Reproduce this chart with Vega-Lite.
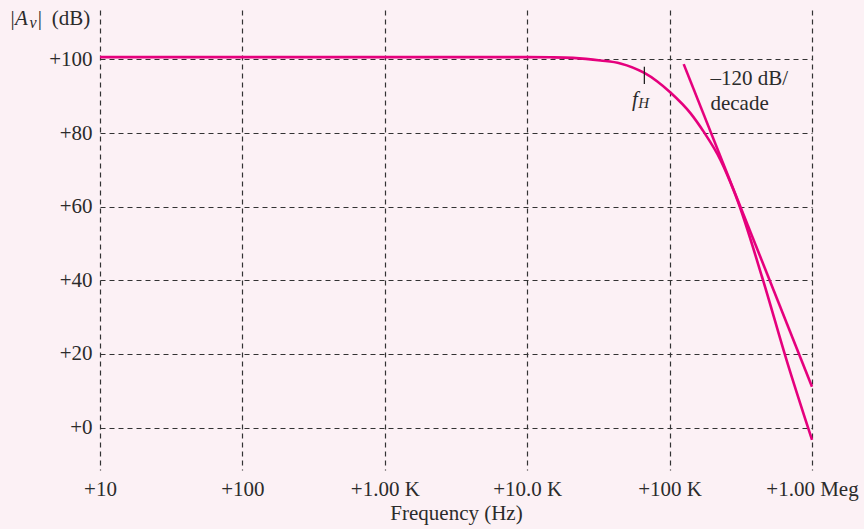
{
  "$schema": "https://vega.github.io/schema/vega-lite/v6.json",
  "width": 712,
  "height": 460,
  "autosize": {"type": "none"},
  "padding": {"left": 100, "top": 10, "right": 52, "bottom": 59},
  "background": "#fcf1f5",
  "config": {
    "view": {"stroke": null},
    "font": "Liberation Serif",
    "text": {"font": "Liberation Serif", "color": "#2b2b2b", "fontSize": 21}
  },
  "encoding": {
    "x": {
      "field": "f", "type": "quantitative",
      "scale": {"type": "log", "domain": [10, 1000000], "nice": false},
      "axis": {
        "values": [10, 100, 1000, 10000, 100000, 1000000],
        "labelExpr": "datum.value < 50 ? '+10' : datum.value < 500 ? '+100' : datum.value < 5000 ? '+1.00 K' : datum.value < 50000 ? '+10.0 K' : datum.value < 500000 ? '+100 K' : '+1.00 Meg'",
        "grid": true, "gridDash": [5, 4], "gridColor": "#333333", "gridWidth": 1.2, "gridOpacity": 1,
        "domain": false, "ticks": false,
        "labelFont": "Liberation Serif", "labelFontSize": 21, "labelColor": "#2b2b2b",
        "labelPadding": 8, "labelFlush": false, "labelOverlap": false,
        "title": "Frequency (Hz)", "titleFont": "Liberation Serif", "titleFontSize": 21,
        "titleFontWeight": "normal", "titleColor": "#2b2b2b", "titlePadding": 3
      }
    },
    "y": {
      "field": "db", "type": "quantitative",
      "scale": {"domain": [-11.5, 113.4], "nice": false, "zero": false},
      "axis": {
        "values": [0, 20, 40, 60, 80, 100],
        "labelExpr": "'+' + datum.value",
        "grid": true, "gridDash": [5, 4], "gridColor": "#333333", "gridWidth": 1.2, "gridOpacity": 1,
        "domain": false, "ticks": false,
        "labelFont": "Liberation Serif", "labelFontSize": 21, "labelColor": "#2b2b2b",
        "labelPadding": 8, "title": null
      }
    }
  },
  "layer": [
    {
      "data": {"values": [
        {"f": 10, "db": 100.6},
        {"f": 100, "db": 100.6},
        {"f": 1000, "db": 100.6},
        {"f": 10000, "db": 100.6},
        {"f": 15000, "db": 100.55},
        {"f": 21000, "db": 100.4},
        {"f": 32700, "db": 99.7},
        {"f": 45100, "db": 98.9},
        {"f": 66500, "db": 96.3},
        {"f": 82000, "db": 94.0},
        {"f": 101400, "db": 91.0},
        {"f": 140000, "db": 85.4},
        {"f": 173800, "db": 80.3},
        {"f": 227500, "db": 72.7},
        {"f": 281000, "db": 64.5},
        {"f": 299000, "db": 61.8},
        {"f": 452500, "db": 40.1},
        {"f": 662000, "db": 18.4},
        {"f": 1000000, "db": -3.3}
      ]},
      "mark": {"type": "line", "color": "#e5007d", "strokeWidth": 2.6, "interpolate": "monotone"}
    },
    {
      "data": {"values": [
        {"f": 125600, "db": 98.7},
        {"f": 1000000, "db": 11.1}
      ]},
      "mark": {"type": "line", "color": "#e5007d", "strokeWidth": 2.6}
    },
    {
      "data": {"values": [{"f": 66500, "db": 98.0, "db2": 93.3}]},
      "mark": {"type": "rule", "color": "#222222", "strokeWidth": 1.3},
      "encoding": {"y2": {"field": "db2"}}
    },
    {
      "data": {"values": [
        {"f": 193600, "db": 93.0, "t": "–120 dB/"},
        {"f": 193600, "db": 86.2, "t": "decade"}
      ]},
      "mark": {"type": "text", "align": "left", "baseline": "alphabetic", "fontSize": 21},
      "encoding": {"text": {"field": "t"}}
    },
    {
      "data": {"values": [{"f": 54500, "db": 87.4, "t": "f"}]},
      "mark": {"type": "text", "align": "left", "baseline": "alphabetic", "fontSize": 21, "fontStyle": "italic"},
      "encoding": {"text": {"field": "t"}}
    },
    {
      "data": {"values": [{"f": 60300, "db": 86.8, "t": "H"}]},
      "mark": {"type": "text", "align": "left", "baseline": "alphabetic", "fontSize": 15, "fontStyle": "italic"},
      "encoding": {"text": {"field": "t"}}
    },
    {
      "data": {"values": [
        {"f": 2.435, "db": 109.3, "t": "|"},
        {"f": 3.788, "db": 109.3, "t": "|"}
      ]},
      "mark": {"type": "text", "align": "center", "baseline": "alphabetic", "fontSize": 21},
      "encoding": {"text": {"field": "t"}}
    },
    {
      "data": {"values": [{"f": 2.527, "db": 109.3, "t": "A"}]},
      "mark": {"type": "text", "align": "left", "baseline": "alphabetic", "fontSize": 21, "fontStyle": "italic"},
      "encoding": {"text": {"field": "t"}}
    },
    {
      "data": {"values": [{"f": 3.196, "db": 108.4, "t": "v"}]},
      "mark": {"type": "text", "align": "left", "baseline": "alphabetic", "fontSize": 16, "fontStyle": "italic"},
      "encoding": {"text": {"field": "t"}}
    },
    {
      "data": {"values": [{"f": 4.578, "db": 109.3, "t": "(dB)"}]},
      "mark": {"type": "text", "align": "left", "baseline": "alphabetic", "fontSize": 21},
      "encoding": {"text": {"field": "t"}}
    }
  ]
}
